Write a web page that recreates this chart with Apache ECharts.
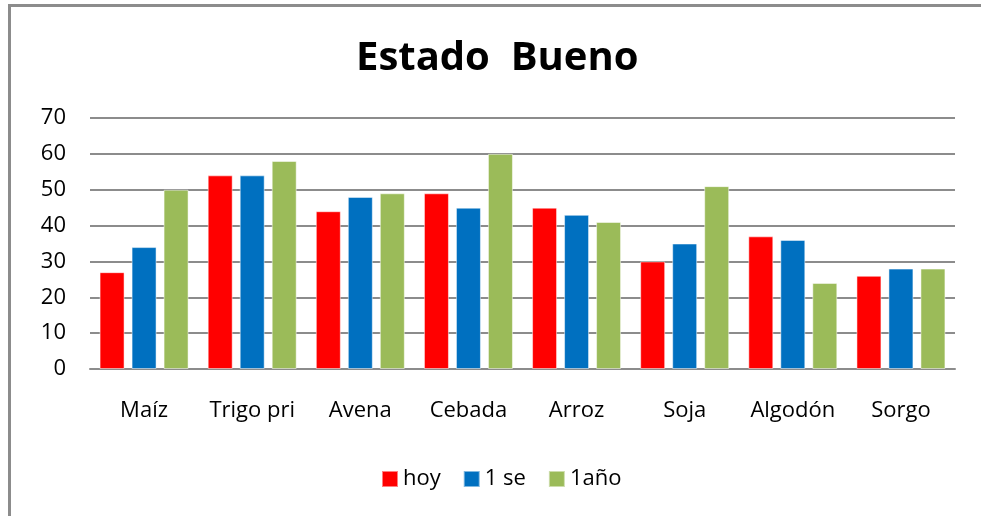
<!DOCTYPE html>
<html>
<head>
<meta charset="utf-8">
<script src="https://cdn.jsdelivr.net/npm/echarts@6/dist/echarts.min.js"></script>
<style>
  html, body { margin: 0; padding: 0; background: #fff; }
  #frame { position: absolute; left: 8px; top: 4px; width: 973px; height: 512px;
           border-top: 3px solid #8c8c8c; border-left: 3px solid #8c8c8c; box-sizing: border-box; }
  #chart { position: absolute; left: 0; top: 0; width: 981px; height: 516px; }
</style>
</head>
<body>
<div id="frame"></div>
<div id="chart"></div>
<script>
// categorias y valores
var cultivos = ['Maíz', 'Trigo pri', 'Avena', 'Cebada', 'Arroz', 'Soja', 'Algodón', 'Sorgo'];
var hoy = [27, 54, 44, 49, 45, 30, 37, 26];
var unaSemana = [34, 54, 48, 45, 43, 35, 36, 28];
var unAnio = [50, 58, 49, 60, 41, 51, 24, 28];

var myChart = echarts.init(document.getElementById('chart'));

var fuente = 'Open Sans';

function serie(nombre, datos, color) {
    return {
        name: nombre,
        type: 'bar',
        data: datos,
        barWidth: 25,
        barGap: '28%',
        itemStyle: {
            color: color,
            borderColor: 'rgba(255,255,255,0.5)',
            borderWidth: 1
        }
    };
}

var option = {
    animation: false,
    title: {
        text: 'Estado  Bueno',
        left: 351,
        top: 34,
        textStyle: {
            fontFamily: fuente,
            fontSize: 40,
            fontWeight: 'bold',
            color: '#000'
        }
    },
    legend: {
        bottom: 21,
        left: 376,
        itemWidth: 16,
        itemHeight: 16,
        itemGap: 22,
        icon: 'rect',
        textStyle: { fontFamily: fuente, fontSize: 22, color: '#000' },
        data: ['hoy', '1 se', '1año']
    },
    grid: {
        left: 90,
        right: 26,
        top: 118,
        bottom: 147,
        containLabel: false
    },
    xAxis: {
        type: 'category',
        data: cultivos,
        axisTick: { show: false },
        axisLine: { lineStyle: { color: '#8c8c8c', width: 2 } },
        axisLabel: { interval: 0, margin: 31, fontFamily: fuente, fontSize: 22, color: '#000' }
    },
    yAxis: {
        type: 'value',
        min: 0,
        max: 70,
        interval: 10,
        axisLine: { show: false },
        axisTick: { show: false },
        axisLabel: { margin: 24, fontFamily: fuente, fontSize: 22, color: '#000' },
        splitLine: { lineStyle: { color: '#8c8c8c', width: 2 } }
    },
    series: [
        serie('hoy', hoy, '#ff0000'),
        serie('1 se', unaSemana, '#0070c0'),
        serie('1año', unAnio, '#9bbb59')
    ]
};

myChart.setOption(option);
</script>
</body>
</html>
